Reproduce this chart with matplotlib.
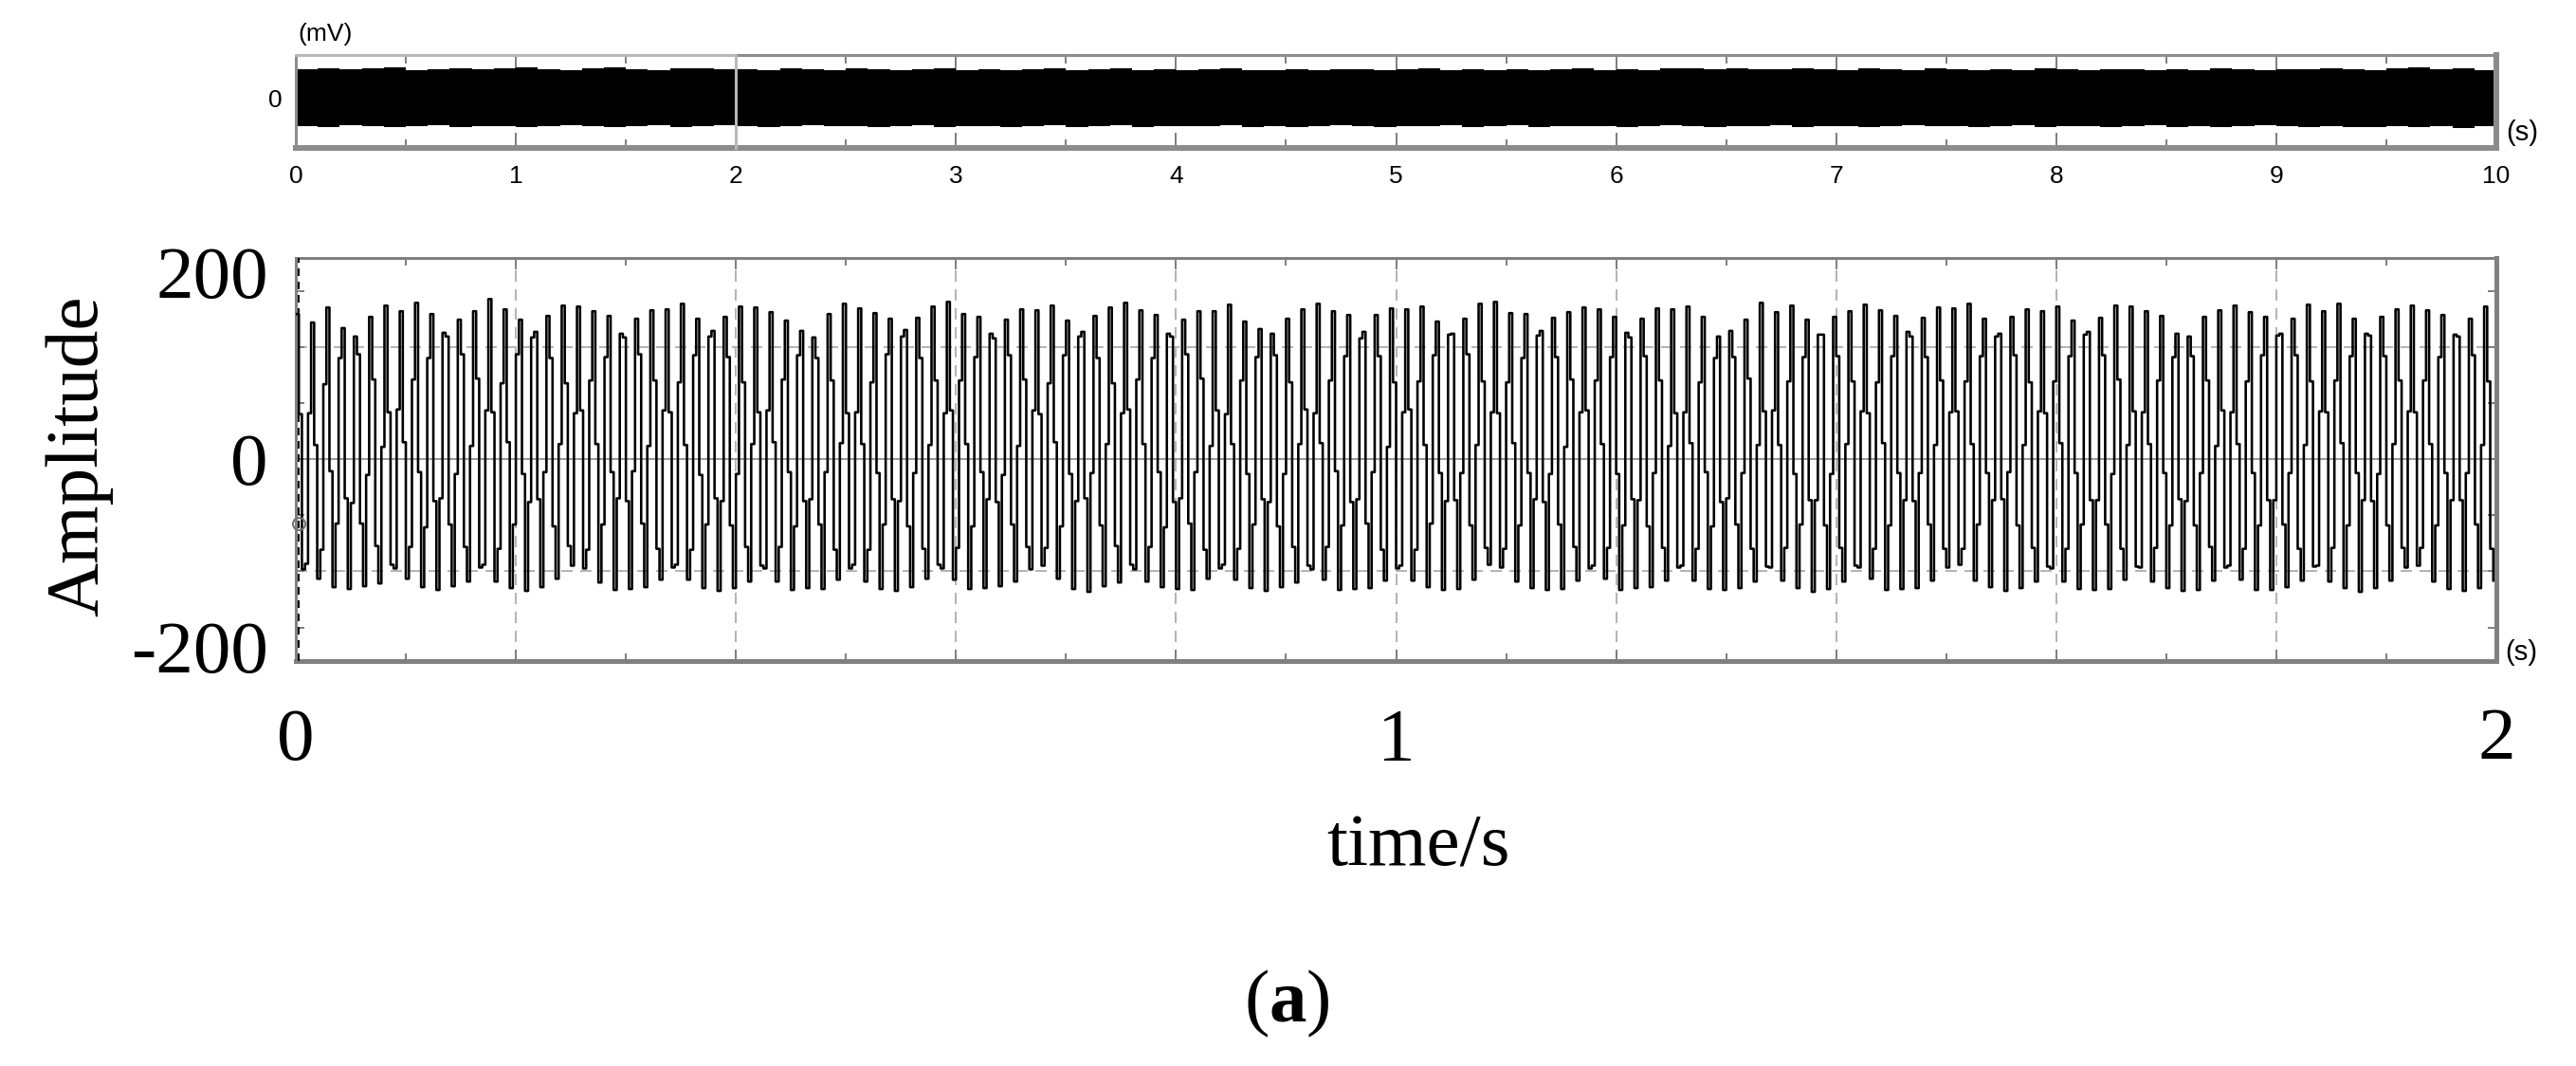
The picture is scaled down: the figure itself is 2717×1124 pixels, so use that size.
import numpy as np
import matplotlib
matplotlib.use("Agg")
import matplotlib.pyplot as plt
from matplotlib.ticker import MultipleLocator, FixedLocator

# ---------------- data ----------------
sample_rate_hz = 360

amplitude_mv = [
    155, 48, -118, -112, 49, 146, 15, -128, -97, 80, 162, -13, -137, -69, 108, 140, -42, -139, -47, 131, 112, -69, -136, -17, 152, 85, -93, -133, 13, 164,
    50, -113, -117, 53, 158, 18, -128, -94, 85, 167, -14, -137, -73, 108, 155, -45, -140, -42, 135, 131, -70, -136, -16, 149, 112, -94, -131, 14, 158, 86,
    -116, -113, 52, 171, 50, -131, -96, 81, 160, 18, -138, -70, 112, 149, -16, -141, -46, 130, 136, -43, -137, -14, 153, 108, -72, -128, 16, 164, 81, -93,
    -114, 49, 163, 52, -117, -97, 84, 158, 16, -132, -70, 109, 153, -14, -140, -42, 134, 130, -45, -139, -13, 150, 112, -69, -137, 14, 159, 84, -96, -129,
    52, 160, 50, -116, -113, 82, 166, 15, -129, -97, 111, 150, -17, -138, -70, 131, 137, -42, -141, -45, 152, 109, -71, -138, -16, 163, 82, -94, -131, 16,
    162, 50, -114, -117, 52, 157, 18, -131, -94, 85, 148, -14, -140, -72, 111, 137, -45, -138, -43, 130, 108, -70, -139, -14, 155, 84, -97, -129, 17, 166,
    49, -117, -113, 50, 161, 16, -131, -97, 82, 156, -15, -139, -70, 112, 150, -43, -141, -45, 131, 138, -72, -137, -15, 151, 108, -96, -128, 15, 163, 84,
    -113, -117, 49, 168, 52, -129, -95, 84, 155, 16, -139, -72, 109, 152, -14, -138, -43, 134, 129, -46, -136, -17, 149, 111, -70, -131, 14, 160, 85, -94,
    -118, 52, 159, 48, -114, -95, 81, 164, 18, -128, -72, 111, 148, -16, -139, -45, 131, 136, -42, -142, -15, 153, 108, -71, -136, 16, 162, 81, -93, -132,
    49, 167, 53, -113, -118, 85, 159, 16, -131, -94, 108, 154, -14, -137, -73, 134, 131, -46, -139, -42, 149, 112, -69, -140, -14, 158, 86, -97, -128, 14,
    158, 52, -117, -113, 48, 165, 16, -129, -96, 84, 147, -16, -138, -70, 109, 139, -43, -141, -46, 134, 111, -72, -137, -16, 150, 82, -94, -132, 16, 160,
    53, -114, -118, 49, 166, 17, -129, -94, 84, 158, -13, -140, -71, 110, 154, -46, -139, -43, 129, 136, -69, -138, -14, 154, 110, -97, -130, 13, 161, 82,
    -117, -114, 50, 160, 53, -130, -97, 83, 163, 15, -137, -69, 111, 147, -15, -140, -45, 133, 134, -44, -139, -15, 150, 112, -71, -129, 15, 166, 83, -95,
    -113, 50, 168, 49, -116, -96, 82, 156, 17, -131, -71, 108, 155, -15, -138, -43, 132, 137, -46, -140, -16, 151, 109, -70, -139, 13, 157, 85, -94, -130,
    50, 162, 52, -117, -114, 84, 160, 16, -128, -95, 109, 152, -16, -140, -71, 135, 130, -43, -138, -44, 150, 110, -72, -137, -15, 161, 84, -95, -130, 14,
    160, 49, -116, -114, 50, 163, 17, -130, -96, 82, 152, -14, -139, -72, 108, 131, -46, -140, -42, 137, 109, -70, -138, -15, 149, 86, -96, -131, 15, 167,
    51, -115, -116, 52, 157, 15, -130, -95, 83, 164, -16, -138, -70, 109, 149, -44, -142, -44, 133, 133, -71, -139, -16, 152, 110, -95, -131, 16, 158, 83,
    -114, -116, 51, 165, 49, -128, -96, 82, 159, 17, -140, -71, 110, 153, -15, -139, -44, 136, 131, -45, -138, -15, 151, 109, -70, -130, 15, 162, 84, -96,
    -116, 50, 161, 51, -113, -96, 83, 166, 16, -130, -70, 110, 150, -15, -137, -44, 131, 134, -43, -141, -14, 152, 111, -71, -138, 15, 160, 82, -95, -131,
    51, 158, 49, -115, -117, 83, 163, 17, -131, -96, 110, 148, -15, -139, -70, 133, 136, -44, -140, -44, 151, 111, -70, -139, -16, 164, 85, -96, -129, 15,
    163, 51, -115, -116, 50, 158, 16, -131, -95, 84, 153, -15, -138, -71, 109, 134, -43, -141, -45, 131, 110, -71, -140, -15, 152, 84, -94, -130, 14, 159,
    52, -116, -114, 50, 164, 16, -129, -96, 83, 157, -15, -140, -71, 111, 152, -44, -140, -44, 132, 134, -70, -137, -15, 150, 111, -96, -130, 15, 165, 83,
    -115, -114, 51, 158, 50, -131, -95, 84, 166, 17, -138, -71, 110, 150, -15, -142, -44, 134, 132, -45, -138, -16, 152, 110, -71, -130, 16, 160, 84, -95,
    -116, 51, 164, 50, -114, -95, 84, 159, 16, -131, -71, 109, 154, -15, -139, -44, 133, 131, -44, -141, -15, 150, 111, -70, -138, 15, 163, 83, -96, -130,
]

overview_step_s = 0.1
overview_top_mv = [
    152, 158, 150, 155, 161, 149, 153, 157, 150, 156,
    159, 151, 148, 155, 160, 152, 147, 154, 158, 150,
    153, 149, 156, 151, 147, 155, 150, 146, 152, 157,
    149, 153, 148, 151, 156, 145, 150, 154, 148, 152,
    147, 151, 155, 149, 146, 152, 148, 153, 150, 145,
    150, 154, 147, 151, 149, 153, 146, 150, 155, 148,
    152, 149, 154, 158, 151, 156, 153, 150, 157, 152,
    149, 155, 151, 148, 154, 150, 147, 153, 149, 155,
    151, 148, 153, 150, 146, 152, 149, 155, 151, 147,
    153, 150, 156, 152, 149, 154, 159, 151, 157, 148,
]
overview_bottom_mv = [
    -142, -146, -139, -144, -148, -141, -137, -145, -143, -140,
    -147, -141, -138, -144, -149, -142, -139, -145, -141, -137,
    -143, -146, -140, -138, -144, -142, -147, -141, -139, -145,
    -140, -144, -148, -142, -138, -145, -143, -139, -146, -141,
    -144, -140, -137, -145, -142, -148, -141, -139, -144, -146,
    -141, -143, -139, -147, -142, -138, -145, -141, -144, -140,
    -146, -142, -139, -144, -148, -141, -143, -139, -145, -142,
    -140, -146, -143, -138, -144, -141, -147, -142, -139, -145,
    -143, -140, -146, -142, -138, -145, -141, -148, -143, -139,
    -144, -147, -141, -145, -149, -142, -146, -140, -150, -144,
]

main_xtick_values = [0, 1, 2]
main_xtick_labels = ["0", "1", "2"]
main_ytick_values = [-200, 0, 200]
main_ytick_labels = ["-200", "0", "200"]
overview_xtick_values = [0, 1, 2, 3, 4, 5, 6, 7, 8, 9, 10]
overview_xtick_labels = ["0", "1", "2", "3", "4", "5", "6", "7", "8", "9", "10"]
selection_start_s = 0
selection_end_s = 2
cursor_time_s = 0.003
cursor_value_mv = -69

# ---------------- style ----------------
W, H, DPI = 2717, 1124, 100
PT = 72.0 / DPI          # points per pixel
SERIF = "Liberation Serif"
SANS = "Liberation Sans"
plt.rcParams["font.family"] = [SERIF, "DejaVu Serif"]
plt.rcParams["mathtext.fontset"] = "custom"
plt.rcParams["mathtext.rm"] = SERIF
plt.rcParams["mathtext.bf"] = SERIF + ":bold"

SPINE = "#808080"
GRID = "#b4b4b4"
BIG = 57
SMALL = 19

fig = plt.figure(figsize=(W / DPI, H / DPI), dpi=DPI)
fig.patch.set_facecolor("white")


def box(l, t, r, b):
    return [l / W, 1 - b / H, (r - l) / W, (b - t) / H]


# ---------------- overview strip ----------------
ov = fig.add_axes(box(312, 58, 2633, 156))
ov_ylim = (-255, 225)
ov.set_xlim(0, 10)
ov.set_ylim(*ov_ylim)
ov_t = np.arange(len(overview_top_mv) + 1) * overview_step_s
ov.fill_between(ov_t, overview_bottom_mv + overview_bottom_mv[-1:],
                overview_top_mv + overview_top_mv[-1:], step="post",
                color="black", lw=0, zorder=2)
ov.plot([selection_start_s, selection_end_s, selection_end_s],
        [ov_ylim[1], ov_ylim[1], ov_ylim[0]], color="#b8b8b8",
        lw=3 * PT, clip_on=False, zorder=5)
for side, w in (("top", 3), ("left", 3), ("bottom", 6), ("right", 6)):
    ov.spines[side].set_color("#8c8c8c")
    ov.spines[side].set_linewidth(w * PT)
ov.set_xticks(overview_xtick_values, overview_xtick_labels)
ov.xaxis.set_minor_locator(MultipleLocator(0.5))
ov.tick_params(axis="x", which="major", direction="in", top=True, bottom=True,
               length=16 * PT, width=2 * PT, color=SPINE, labelsize=SMALL,
               pad=18 * PT, labelfontfamily=SANS)
ov.tick_params(axis="x", which="minor", direction="in", top=True, bottom=True,
               length=9 * PT, width=2 * PT, color=SPINE)
ov.set_yticks([0], ["0"])
ov.tick_params(axis="y", which="major", length=0, labelsize=SMALL,
               pad=14 * PT, labelfontfamily=SANS)
fig.text(314 / W, 1 - 36 / H, "(mV)", ha="left", va="center",
         family=SANS, fontsize=SMALL)
fig.text(2643 / W, 1 - 140 / H, "(s)", ha="left", va="center",
         family=SANS, fontsize=21)

# ---------------- main waveform ----------------
ax = fig.add_axes(box(312, 272, 2633, 697))
ax.set_xlim(0, 2)
ax.set_ylim(-216, 215)
t = np.arange(len(amplitude_mv)) / sample_rate_hz
ax.plot(t, amplitude_mv, color="black", lw=2.6 * PT, drawstyle="steps-post",
        zorder=3)

for g in np.arange(0.2, 1.99, 0.2):
    ax.axvline(g, color=GRID, lw=2 * PT, dashes=(6, 4), zorder=1)
for g in (-120, 120):
    ax.axhline(g, color=GRID, lw=2 * PT, dashes=(6, 4), zorder=1)
ax.axhline(0, color="#9a9a9a", lw=2 * PT, zorder=1)

ax.axvline(cursor_time_s, color="black", lw=2 * PT, dashes=(4, 3), zorder=4)
ax.plot([cursor_time_s], [cursor_value_mv], "o", mfc="none", mec="#707070",
        mew=2 * PT, ms=13 * PT, zorder=5, clip_on=False)

for side, w in (("top", 3), ("left", 3), ("bottom", 5), ("right", 5)):
    ax.spines[side].set_color(SPINE)
    ax.spines[side].set_linewidth(w * PT)

major_x = np.round(np.arange(0, 2.001, 0.2), 1)
major_lbl = []
for p in major_x:
    if abs(p - round(p)) < 1e-9 and int(round(p)) in main_xtick_values:
        major_lbl.append(main_xtick_labels[main_xtick_values.index(int(round(p)))])
    else:
        major_lbl.append("")
ax.set_xticks(major_x, major_lbl)
ax.xaxis.set_minor_locator(MultipleLocator(0.1))
ax.tick_params(axis="x", which="major", direction="in", top=True, bottom=True,
               length=12 * PT, width=2 * PT, color=SPINE, labelsize=BIG,
               pad=49 * PT)
ax.tick_params(axis="x", which="minor", direction="in", top=True, bottom=True,
               length=8 * PT, width=2 * PT, color=SPINE)

ax.set_yticks(main_ytick_values, main_ytick_labels)
ax.tick_params(axis="y", which="major", length=0, labelsize=BIG, pad=29 * PT)
ax.yaxis.set_minor_locator(FixedLocator([-180, -120, -60, 0, 60, 120, 180]))
ax.yaxis.remove_overlapping_locs = False
ax.tick_params(axis="y", which="minor", direction="in", left=True, right=True,
               length=9 * PT, width=2 * PT, color=SPINE)

fig.text(2642 / W, 1 - 688 / H, "(s)", ha="left", va="center",
         family=SANS, fontsize=21)
fig.text(1496 / W, 1 - 913 / H, "time/s", ha="center", va="baseline",
         fontsize=BIG)
fig.text(84 / W, 1 - 481 / H, "Amplitude", rotation=90, ha="center",
         va="center", fontsize=BIG)
fig.text(1357 / W, 1 - 1058 / H, r"($\mathbf{a}$)", ha="center", va="center",
         fontsize=BIG)

fig.savefig("out.png", dpi=DPI, facecolor="white")
